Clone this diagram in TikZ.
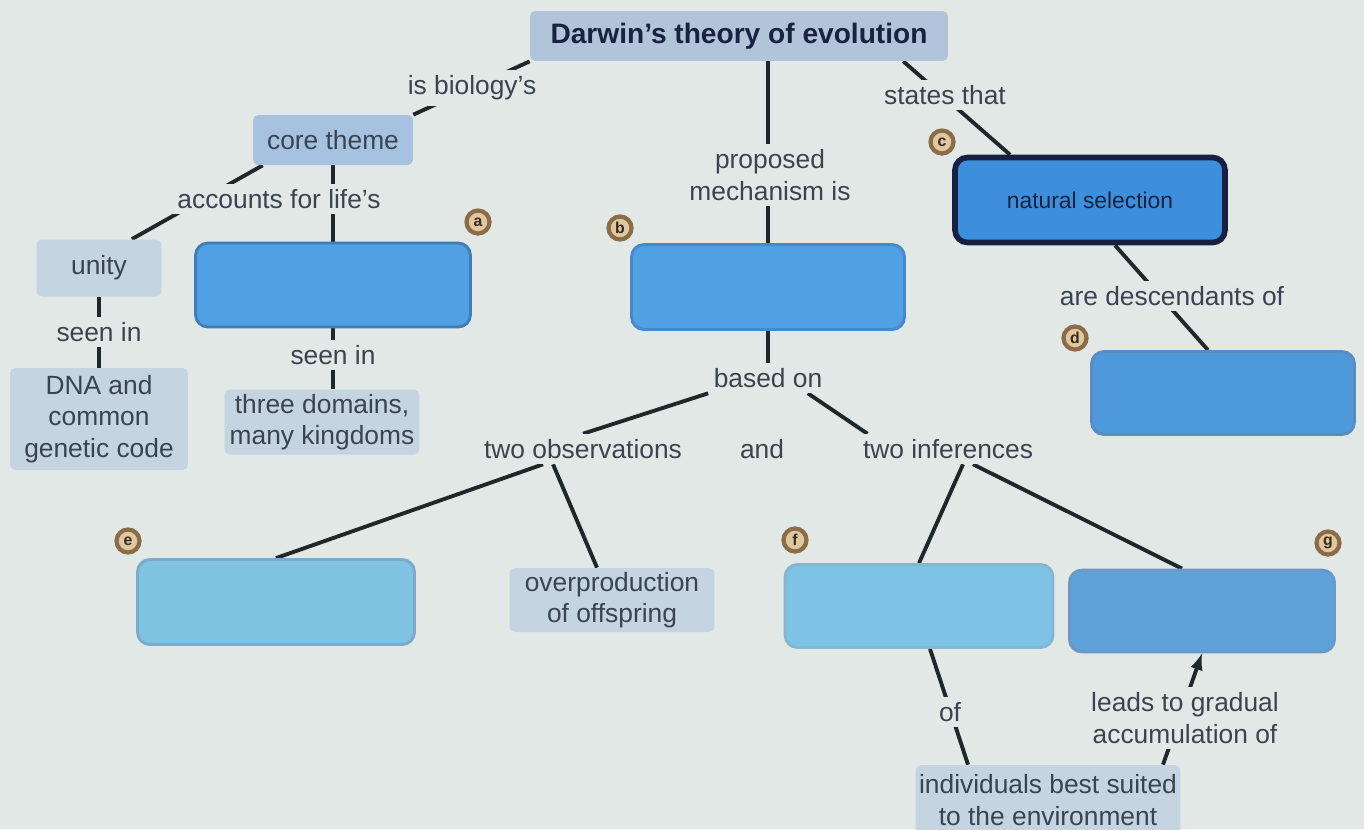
\documentclass[tikz,border=0pt]{standalone}
\usepackage{fontspec}
\setmainfont{Liberation Sans}
\usepackage[svgnames]{xcolor}
\usepackage{tikz}

\definecolor{paper}{RGB}{226,232,230}
\definecolor{ink}{RGB}{58,68,80}
\definecolor{navy}{RGB}{26,34,66}
\definecolor{wire}{RGB}{30,40,42}
\definecolor{titlefill}{RGB}{178,196,218}
\definecolor{corefill}{RGB}{166,194,224}
\definecolor{palefill}{RGB}{196,212,224}
\definecolor{tagring}{RGB}{140,108,70}
\definecolor{tagfill}{RGB}{222,200,162}
\definecolor{tagink}{RGB}{60,40,28}

\pgfdeclarelayer{back}
\pgfsetlayers{back,main}

\tikzset{
  concept/.style={rectangle, rounded corners=3pt, fill=#1, text=ink, inner sep=2pt, align=center, font=\fontsize{15}{18}\selectfont},
  blank/.style={rectangle, rounded corners=7pt, line width=1.6pt, inner sep=0pt},
  link/.style={fill=paper, text=ink, inner sep=3pt, align=center, font=\fontsize{15}{18}\selectfont},
  tag/.style={circle, draw=tagring, line width=2.4pt, fill=tagfill, text=tagink, minimum size=0.46cm, inner sep=0pt, font=\bfseries\fontsize{9}{9}\selectfont},
  conn/.style={draw=wire, line width=2.2pt}
}

\begin{document}
\begin{tikzpicture}[x=0.02cm,y=-0.02cm]
  \useasboundingbox (0,0) rectangle (1364,829);

  % concepts
  \node[concept=titlefill, minimum width=8.36cm, minimum height=1cm, text=navy, font=\bfseries\fontsize{16}{19}\selectfont] (title) at (739,36) {Darwin's theory of evolution};
  \node[concept=corefill, minimum width=3.2cm, minimum height=1cm] (core) at (333,140) {core theme};
  \node[concept=palefill, minimum width=2.5cm, minimum height=1.14cm] (unity) at (99,268) {unity};
  \node[concept=palefill, minimum width=3.56cm, minimum height=2.04cm] (dna) at (99,419) {DNA and\\common\\genetic code};
  \node[concept=palefill, minimum width=3.9cm, minimum height=1.3cm] (three) at (322,422) {three domains,\\many kingdoms};
  \node[concept=palefill, minimum width=4.1cm, minimum height=1.28cm] (overprod) at (612,600) {overproduction\\of offspring};
  \node[concept=palefill, minimum width=5.24cm, minimum height=1.4cm] (indiv) at (1048,800) {individuals best suited\\to the environment};

  % empty boxes
  \node[blank, fill={rgb,255:red,80;green,160;blue,227}, draw={rgb,255:red,62;green,126;blue,184}, minimum width=5.5cm, minimum height=1.68cm] (boxa) at (333,285) {};
  \node[blank, fill={rgb,255:red,80;green,161;blue,228}, draw={rgb,255:red,72;green,136;blue,200}, minimum width=5.46cm, minimum height=1.7cm] (boxb) at (768,287) {};
  \node[blank, fill={rgb,255:red,62;green,143;blue,219}, draw={rgb,255:red,22;green,32;blue,64}, line width=3.2pt, minimum width=5.4cm, minimum height=1.7cm, text=navy, font=\fontsize{13}{16}\selectfont] (natsel) at (1090,200) {natural selection};
  \node[blank, fill={rgb,255:red,78;green,152;blue,220}, draw={rgb,255:red,92;green,140;blue,192}, minimum width=5.26cm, minimum height=1.66cm] (boxd) at (1223,393) {};
  \node[blank, fill={rgb,255:red,128;green,194;blue,226}, draw={rgb,255:red,122;green,170;blue,204}, minimum width=5.54cm, minimum height=1.7cm] (boxe) at (276,602) {};
  \node[blank, fill={rgb,255:red,126;green,195;blue,230}, draw={rgb,255:red,133;green,181;blue,208}, minimum width=5.36cm, minimum height=1.66cm] (boxf) at (919,606) {};
  \node[blank, fill={rgb,255:red,95;green,162;blue,218}, draw={rgb,255:red,108;green,152;blue,200}, minimum width=5.3cm, minimum height=1.64cm] (boxg) at (1202,611) {};

  % linking phrases
  \node[link] (isbio) at (472,88) {is biology's};
  \node[link] (acc) at (279,199) {accounts for life's};
  \node[link] (seena) at (99,332) {seen in};
  \node[link] (seenb) at (333,355) {seen in};
  \node[link] (proposed) at (770,175) {proposed\\mechanism is};
  \node[link] (based) at (768,378) {based on};
  \node[link] (twoobs) at (583,449) {two observations};
  \node[link] (and) at (762,449) {and};
  \node[link] (twoinf) at (948,449) {two inferences};
  \node[link] (states) at (945,95) {states that};
  \node[link] (desc) at (1172,296) {are descendants of};
  \node[link] (of) at (950,712) {of};
  \node[link] (leads) at (1185,718) {leads to gradual\\accumulation of};

  % letter tags
  \node[tag] (taga) at (478,222) {a};
  \node[tag] (tagb) at (620,228) {b};
  \node[tag] (tagc) at (942,142) {c};
  \node[tag] (tagd) at (1075,338) {d};
  \node[tag] (tage) at (128,541) {e};
  \node[tag] (tagf) at (795,540) {f};
  \node[tag] (tagg) at (1328,543) {g};

  \begin{pgfonlayer}{back}
    \fill[paper] (0,0) rectangle (1364,829);
    \draw[conn] (title.south west) -- (core.north east);
    \draw[conn] ([xshift=0.2cm]core.south west) -- ([xshift=-0.6cm]unity.north east);
    \draw[conn] (core.south) -- (boxa.north);
    \draw[conn] (unity.south) -- (dna.north);
    \draw[conn] (boxa.south) -- (boxa.south |- three.north);
    \draw[conn] (boxb.north |- title.south) -- (boxb.north);
    \draw[conn] (boxb.south) -- (based.north);
    \draw[conn] (based.south west) -- (twoobs.north);
    \draw[conn] ([xshift=-0.4cm]based.south east) -- ([xshift=0.2cm]twoinf.north west);
    \draw[conn] ([xshift=-0.8cm]twoobs.south) -- (boxe.north);
    \draw[conn] ([xshift=-0.6cm]twoobs.south) -- ([xshift=-0.3cm]overprod.north);
    \draw[conn] ([xshift=0.3cm]twoinf.south) -- (boxf.north);
    \draw[conn] ([xshift=0.5cm]twoinf.south) -- ([xshift=-0.4cm]boxg.north);
    \draw[conn] ([xshift=-0.9cm]title.south east) -- ([xshift=-1.6cm]natsel.north);
    \draw[conn] ([xshift=0.5cm]natsel.south) -- ([xshift=-0.3cm]boxd.north);
    \draw[conn] ([xshift=0.22cm]boxf.south) -- ([xshift=-1.6cm]indiv.north);
    \draw[conn, -latex] ([xshift=2.3cm]indiv.north) -- (boxg.south);
  \end{pgfonlayer}
\end{tikzpicture}
\end{document}
